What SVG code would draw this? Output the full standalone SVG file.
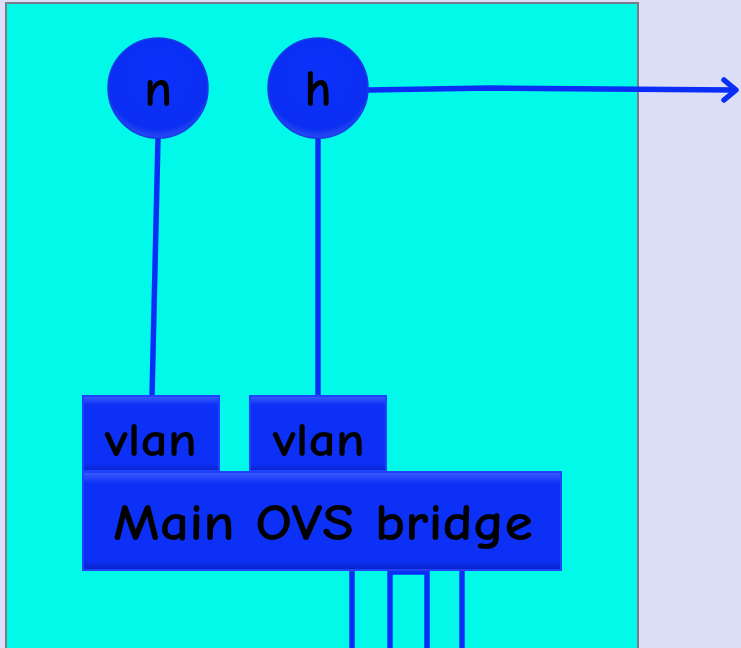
<svg xmlns="http://www.w3.org/2000/svg" width="741" height="648" viewBox="0 0 741 648">
<style>
.lbl{font-family:"Comic Neue","DejaVu Sans","Liberation Sans",sans-serif;font-weight:bold;fill:#000;}
.wire{stroke:#0A2EF5;stroke-width:5.5;fill:none;stroke-linecap:round;stroke-linejoin:round;}
.box{stroke:#1E42FF;stroke-width:2;}
.circ{fill:url(#cg);stroke:#1A3AE8;stroke-width:1.5;}
</style>
<defs>
<radialGradient id="cg" cx="50%" cy="40%" r="60%">
<stop offset="0" stop-color="#0C31FA"/>
<stop offset="0.85" stop-color="#0A2EF2"/>
<stop offset="1" stop-color="#2A4AF0"/>
</radialGradient>
<linearGradient id="bevel" x1="0" y1="0" x2="0" y2="1">
<stop offset="0" stop-color="#3D5CFF"/>
<stop offset="0.12" stop-color="#0C30F6"/>
<stop offset="0.9" stop-color="#0C30F6"/>
<stop offset="1" stop-color="#0822C8"/>
</linearGradient>
</defs>
<rect x="0" y="0" width="741" height="648" fill="#DCDEF8"/>
<rect id="host" x="6" y="3" width="632" height="660" fill="#00F9E8" stroke="#7A7A8A" stroke-width="2"/>
<g id="connectors">
<path class="wire" d="M158,138 L152,397"/>
<path class="wire" d="M318,138 L318,397"/>
<path class="wire" d="M369,90 L490,88 L735,90"/>
<path class="wire" d="M724,80 L736,90 L724,100" stroke-width="5"/>
<path class="wire" d="M352,570 L352,650"/>
<path class="wire" d="M390,650 L390,572 L427,572 L427,650"/>
<path class="wire" d="M462,570 L462,650"/>
</g>
<g id="node-n">
<circle class="circ" cx="158" cy="88" r="50"/>
<text class="lbl" x="158" y="106" font-size="52" text-anchor="middle">n</text>
</g>
<g id="node-h">
<circle class="circ" cx="318" cy="88" r="50"/>
<text class="lbl" x="318" y="106" font-size="52" text-anchor="middle">h</text>
</g>
<g id="vlan1">
<rect class="box" x="83" y="396" width="136" height="75" fill="url(#bevel)"/>
<text class="lbl" x="151" y="456" font-size="48" text-anchor="middle" textLength="92" lengthAdjust="spacingAndGlyphs">vlan</text>
</g>
<g id="vlan2">
<rect class="box" x="250" y="396" width="136" height="75" fill="url(#bevel)"/>
<text class="lbl" x="319" y="456" font-size="48" text-anchor="middle" textLength="92" lengthAdjust="spacingAndGlyphs">vlan</text>
</g>
<g id="bridge">
<rect class="box" x="83" y="472" width="478" height="98" fill="url(#bevel)"/>
<text class="lbl" x="323" y="540" font-size="52" text-anchor="middle" textLength="420" lengthAdjust="spacingAndGlyphs">Main OVS bridge</text>
</g>
</svg>
